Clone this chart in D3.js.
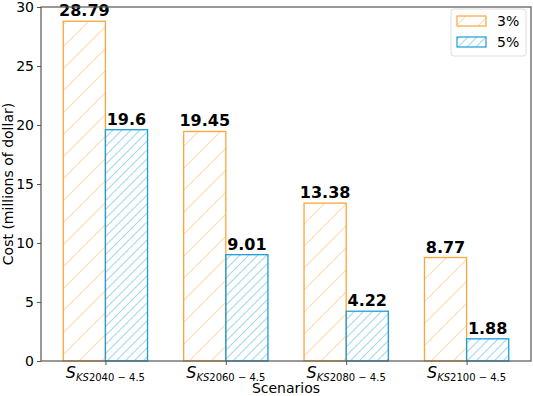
<!DOCTYPE html>
<html>
<head>
<meta charset="utf-8">
<script src="https://cdn.jsdelivr.net/npm/d3@7"></script>
<style>
  body { margin: 0; background: #fff; }
  svg { font-family: "DejaVu Sans", sans-serif; }
</style>
</head>
<body>
<svg id="svg" width="533" height="396"></svg>
<script>
// data
let scenarios = ["2040", "2060", "2080", "2100"];
let rates = ["3%", "5%"];
let cost3 = [28.79, 19.45, 13.38, 8.77];
let cost5 = [19.6, 9.01, 4.22, 1.88];
let yTicks = [0, 5, 10, 15, 20, 25, 30];

let colors = { "3%": "#fca63a", "5%": "#1a9fd8" };

let margin = { top: 7, right: 2, bottom: 35, left: 41 };
let width = 533, height = 396;

let svg = d3.select("#svg");
let defs = svg.append("defs");

// hatch patterns: orange wide "/", blue dense "//"
function makeHatch(id, color, spacing, op) {
  let p = defs.append("pattern")
    .attr("id", id)
    .attr("patternUnits", "userSpaceOnUse")
    .attr("width", spacing).attr("height", spacing);
  p.append("path")
    .attr("d", `M0,${spacing} L${spacing},0 M-1,1 L1,-1 M${spacing-1},${spacing+1} L${spacing+1},${spacing-1}`)
    .attr("stroke", color).attr("stroke-width", 1.1).attr("stroke-opacity", op);
}
makeHatch("hatch3", colors["3%"], 22, 0.4);
makeHatch("hatch5", colors["5%"], 9, 0.4);

let x = d3.scaleLinear()
  .domain([-0.535, 3.535])
  .range([margin.left, width - margin.right]);
let y = d3.scaleLinear()
  .domain([0, 30])
  .range([height - margin.bottom, margin.top]);

let barW = 0.35;

let series = [
  { rate: "3%", values: cost3, offset: -barW / 2, fill: "url(#hatch3)" },
  { rate: "5%", values: cost5, offset: barW / 2, fill: "url(#hatch5)" }
];

series.forEach(function(s) {
  let g = svg.append("g");
  g.selectAll("rect")
    .data(s.values)
    .enter()
    .append("rect")
    .attr("x", (d, i) => x(i + s.offset - barW / 2))
    .attr("width", x(barW) - x(0))
    .attr("y", d => y(d))
    .attr("height", d => y(0) - y(d))
    .attr("fill", s.fill)
    .attr("stroke", colors[s.rate])
    .attr("stroke-width", 1.3);
  g.selectAll("text")
    .data(s.values)
    .enter()
    .append("text")
    .attr("x", (d, i) => x(i + s.offset))
    .attr("y", d => y(d) - 5)
    .attr("text-anchor", "middle")
    .attr("font-size", 16)
    .attr("font-weight", "bold")
    .attr("fill", "#000")
    .text(d => d);
});

// frame
svg.append("rect")
  .attr("x", margin.left).attr("y", margin.top)
  .attr("width", width - margin.left - margin.right)
  .attr("height", height - margin.top - margin.bottom)
  .attr("fill", "none").attr("stroke", "#555").attr("stroke-width", 1.2);

// y axis
let yAxis = svg.append("g")
  .attr("transform", `translate(${margin.left},0)`)
  .call(d3.axisLeft(y).tickValues(yTicks).tickSize(4).tickPadding(3));
yAxis.select(".domain").remove();
yAxis.selectAll("line").attr("stroke", "#555");
yAxis.selectAll("text").attr("font-size", 14).attr("font-family", "DejaVu Sans").attr("fill", "#000");

// x axis with subscripted labels
let xAxis = svg.append("g")
  .attr("transform", `translate(0,${y(0)})`)
  .call(d3.axisBottom(x).tickValues(d3.range(scenarios.length)).tickSize(4).tickFormat(""));
xAxis.select(".domain").remove();
xAxis.selectAll("line").attr("stroke", "#555");

svg.append("g").selectAll("text")
  .data(scenarios)
  .enter()
  .append("text")
  .attr("x", (d, i) => x(i))
  .attr("y", y(0) + 17)
  .attr("text-anchor", "middle")
  .each(function(d) {
    let t = d3.select(this);
    t.append("tspan").attr("font-style", "italic").attr("font-size", 16).text("S");
    t.append("tspan").attr("dy", 3).attr("font-size", 10).attr("font-style", "italic").text("KS");
    t.append("tspan").attr("font-size", 10).text(d + " \u2212 4.5");
  });

// axis titles
svg.append("text")
  .attr("x", (margin.left + width - margin.right) / 2)
  .attr("y", 393)
  .attr("text-anchor", "middle")
  .attr("font-size", 14)
  .text("Scenarios");

svg.append("text")
  .attr("transform", `translate(13,${(margin.top + height - margin.bottom) / 2}) rotate(-90)`)
  .attr("text-anchor", "middle")
  .attr("font-size", 14)
  .text("Cost (millions of dollar)");

// legend
let lg = svg.append("g").attr("transform", "translate(451,9)");
lg.append("rect")
  .attr("width", 75).attr("height", 47).attr("rx", 3)
  .attr("fill", "#fff").attr("fill-opacity", 0.8)
  .attr("stroke", "#ddd");
series.forEach(function(s, i) {
  lg.append("rect")
    .attr("x", 6).attr("y", 7 + i * 21)
    .attr("width", 29).attr("height", 10)
    .attr("fill", s.fill)
    .attr("stroke", colors[s.rate]).attr("stroke-width", 1.2);
  lg.append("text")
    .attr("x", 46).attr("y", 17 + i * 21)
    .attr("font-size", 14)
    .text(s.rate);
});
</script>
</body>
</html>
